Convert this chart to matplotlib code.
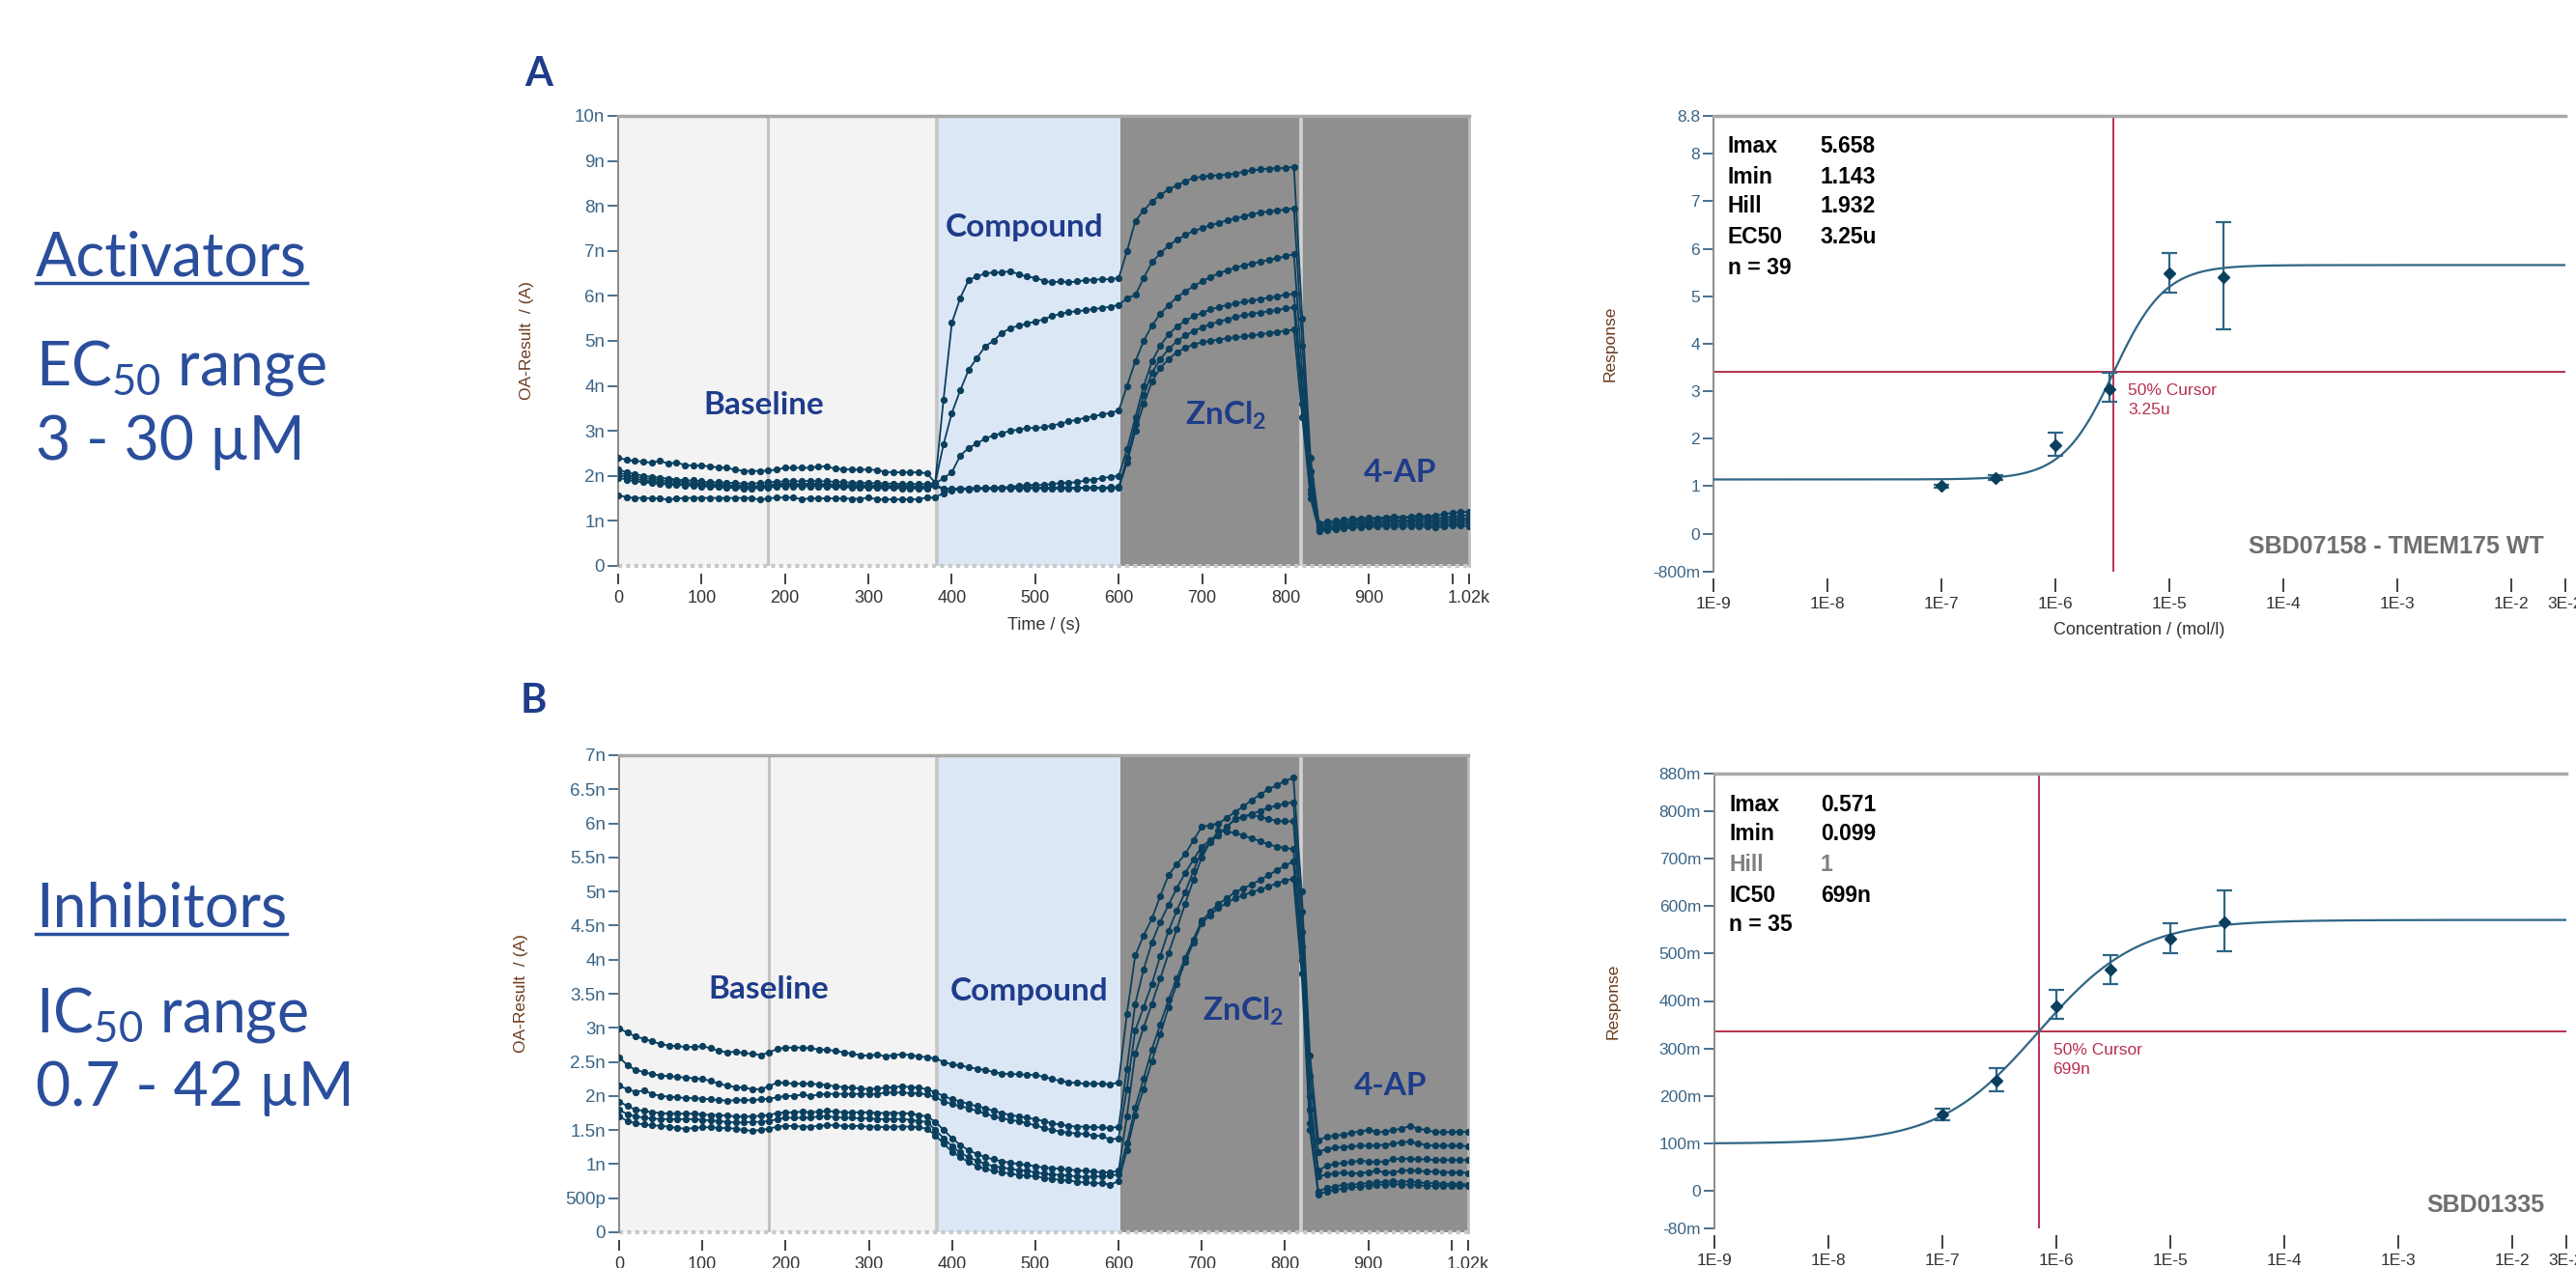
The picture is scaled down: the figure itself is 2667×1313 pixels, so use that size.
import numpy as np
import matplotlib
matplotlib.use("Agg")
import matplotlib.pyplot as plt
from matplotlib.lines import Line2D

plt.rcParams["font.family"] = ["Liberation Sans", "DejaVu Sans"]

# ---------------- data ----------------
# sweeps every 10 s, each phase starts at these times (s)
phase_start = [0, 380, 600, 820]

# panel A (activator) traces, nA
a_base = [
    [2.40, 2.36, 2.33, 2.32, 2.29, 2.34, 2.27, 2.30, 2.24, 2.23, 2.23, 2.21, 2.19, 2.18, 2.14, 2.11, 2.11, 2.11, 2.12,
     2.14, 2.18, 2.18, 2.18, 2.18, 2.21, 2.21, 2.16, 2.15, 2.14, 2.14, 2.14, 2.13, 2.09, 2.08, 2.08, 2.08, 2.08, 2.06],
    [2.14, 2.08, 2.04, 2.00, 1.98, 1.96, 1.94, 1.92, 1.90, 1.90, 1.88, 1.86, 1.86, 1.85, 1.84, 1.83, 1.83, 1.84, 1.86,
     1.87, 1.88, 1.88, 1.88, 1.89, 1.88, 1.88, 1.87, 1.86, 1.85, 1.85, 1.84, 1.84, 1.83, 1.83, 1.82, 1.82, 1.82, 1.82],
    [2.08, 2.02, 1.98, 1.95, 1.93, 1.91, 1.89, 1.88, 1.86, 1.85, 1.83, 1.82, 1.81, 1.80, 1.79, 1.78, 1.77, 1.78, 1.80,
     1.82, 1.83, 1.82, 1.82, 1.83, 1.82, 1.82, 1.81, 1.80, 1.80, 1.80, 1.79, 1.79, 1.78, 1.78, 1.78, 1.77, 1.77, 1.77],
    [2.02, 1.97, 1.93, 1.90, 1.88, 1.86, 1.84, 1.83, 1.82, 1.81, 1.80, 1.79, 1.78, 1.77, 1.76, 1.75, 1.74, 1.75, 1.77,
     1.79, 1.80, 1.80, 1.79, 1.79, 1.80, 1.79, 1.78, 1.78, 1.77, 1.77, 1.77, 1.76, 1.76, 1.75, 1.75, 1.75, 1.74, 1.74],
    [1.96, 1.92, 1.88, 1.86, 1.84, 1.82, 1.81, 1.80, 1.79, 1.78, 1.77, 1.76, 1.75, 1.74, 1.73, 1.72, 1.72, 1.73, 1.74,
     1.76, 1.77, 1.77, 1.76, 1.77, 1.77, 1.76, 1.75, 1.75, 1.74, 1.74, 1.74, 1.73, 1.73, 1.73, 1.72, 1.72, 1.72, 1.72],
    [1.57, 1.53, 1.51, 1.51, 1.50, 1.50, 1.47, 1.50, 1.51, 1.51, 1.51, 1.51, 1.51, 1.51, 1.51, 1.51, 1.51, 1.47, 1.50,
     1.52, 1.52, 1.52, 1.48, 1.50, 1.50, 1.50, 1.50, 1.50, 1.49, 1.49, 1.52, 1.48, 1.48, 1.48, 1.48, 1.48, 1.48, 1.52],
]
a_cmpd = [
    [1.85, 3.7, 5.4, 5.95, 6.35, 6.43, 6.5, 6.52, 6.52, 6.55, 6.48, 6.43, 6.4, 6.34, 6.3, 6.32, 6.3, 6.32, 6.35, 6.36, 6.37, 6.37],
    [1.84, 2.7, 3.4, 3.9, 4.35, 4.62, 4.88, 5.0, 5.18, 5.28, 5.34, 5.38, 5.43, 5.48, 5.55, 5.6, 5.64, 5.66, 5.68, 5.71, 5.73, 5.76],
    [1.83, 1.95, 2.08, 2.45, 2.62, 2.72, 2.83, 2.9, 2.95, 3.0, 3.03, 3.06, 3.07, 3.08, 3.12, 3.16, 3.21, 3.25, 3.29, 3.33, 3.36, 3.4],
    [1.8, 1.72, 1.7, 1.72, 1.72, 1.73, 1.73, 1.74, 1.74, 1.76, 1.78, 1.8, 1.8, 1.8, 1.82, 1.84, 1.85, 1.86, 1.9, 1.92, 1.95, 1.98],
    [1.78, 1.70, 1.72, 1.72, 1.72, 1.73, 1.73, 1.73, 1.73, 1.74, 1.75, 1.76, 1.75, 1.74, 1.74, 1.75, 1.74, 1.74, 1.74, 1.74, 1.74, 1.75],
    [1.52, 1.62, 1.68, 1.70, 1.70, 1.71, 1.71, 1.71, 1.72, 1.72, 1.72, 1.72, 1.72, 1.72, 1.71, 1.72, 1.72, 1.72, 1.73, 1.73, 1.72, 1.72],
]
a_zinc = [
    [6.4, 7.0, 7.67, 7.9, 8.1, 8.24, 8.37, 8.46, 8.55, 8.62, 8.65, 8.67, 8.68, 8.7, 8.72, 8.76, 8.79, 8.81, 8.83, 8.84, 8.84, 8.87],
    [5.8, 5.95, 6.02, 6.4, 6.75, 6.95, 7.12, 7.25, 7.35, 7.45, 7.5, 7.57, 7.62, 7.68, 7.72, 7.77, 7.82, 7.85, 7.88, 7.9, 7.92, 7.95],
    [3.45, 4.0, 4.55, 5.0, 5.35, 5.6, 5.8, 5.97, 6.1, 6.22, 6.32, 6.42, 6.5, 6.57, 6.63, 6.68, 6.72, 6.76, 6.8, 6.84, 6.88, 6.93],
    [2.0, 2.6, 3.3, 4.0, 4.55, 4.9, 5.15, 5.32, 5.45, 5.55, 5.62, 5.7, 5.75, 5.8, 5.83, 5.87, 5.9, 5.93, 5.96, 5.99, 6.02, 6.05],
    [1.75, 2.4, 3.15, 3.8, 4.3, 4.6, 4.82, 5.0, 5.12, 5.22, 5.3, 5.37, 5.43, 5.48, 5.53, 5.57, 5.6, 5.63, 5.66, 5.69, 5.72, 5.75],
    [1.73, 2.3, 3.0, 3.6, 4.1, 4.4, 4.6, 4.75, 4.85, 4.92, 4.97, 5.0, 5.03, 5.06, 5.08, 5.1, 5.12, 5.15, 5.17, 5.2, 5.22, 5.25],
]
a_4ap = [
    [5.5, 2.4, 0.95, 0.98, 1.0, 1.02, 1.05, 1.05, 1.07, 1.06, 1.08, 1.1, 1.08, 1.1, 1.12, 1.1, 1.12, 1.15, 1.18, 1.2, 1.2],
    [4.9, 2.1, 0.9, 0.93, 0.95, 0.98, 1.0, 1.02, 1.03, 1.05, 1.05, 1.07, 1.06, 1.08, 1.07, 1.08, 1.05, 1.08, 1.1, 1.12, 1.12],
    [4.3, 1.9, 0.85, 0.88, 0.9, 0.93, 0.95, 0.97, 0.98, 1.0, 1.0, 1.02, 1.0, 1.02, 1.03, 1.02, 1.0, 1.03, 1.05, 1.05, 1.05],
    [3.9, 1.7, 0.82, 0.85, 0.88, 0.9, 0.92, 0.93, 0.95, 0.95, 0.97, 0.98, 0.97, 0.98, 0.98, 0.97, 0.95, 0.98, 1.0, 1.0, 1.0],
    [3.6, 1.6, 0.8, 0.82, 0.85, 0.87, 0.88, 0.9, 0.9, 0.92, 0.92, 0.93, 0.92, 0.93, 0.93, 0.92, 0.9, 0.92, 0.95, 0.95, 0.95],
    [3.3, 1.5, 0.78, 0.8, 0.82, 0.83, 0.85, 0.85, 0.87, 0.87, 0.88, 0.88, 0.87, 0.88, 0.88, 0.87, 0.85, 0.88, 0.9, 0.9, 0.88],
]

# panel B (inhibitor) traces, nA
b_base = [
    [2.99, 2.93, 2.87, 2.84, 2.80, 2.76, 2.74, 2.73, 2.72, 2.72, 2.73, 2.70, 2.66, 2.64, 2.65, 2.63, 2.62, 2.60, 2.64,
     2.69, 2.71, 2.71, 2.71, 2.70, 2.68, 2.68, 2.66, 2.64, 2.62, 2.60, 2.59, 2.61, 2.58, 2.60, 2.61, 2.60, 2.58, 2.57],
    [2.57, 2.45, 2.38, 2.35, 2.32, 2.30, 2.29, 2.28, 2.27, 2.26, 2.25, 2.22, 2.18, 2.15, 2.13, 2.12, 2.10, 2.10, 2.14,
     2.20, 2.19, 2.18, 2.18, 2.18, 2.17, 2.16, 2.14, 2.13, 2.12, 2.11, 2.10, 2.11, 2.12, 2.13, 2.14, 2.13, 2.12, 2.10],
    [2.15, 2.10, 2.06, 2.08, 2.03, 2.00, 1.99, 1.98, 1.97, 1.97, 1.96, 1.95, 1.94, 1.93, 1.94, 1.94, 1.94, 1.95, 1.96,
     1.98, 2.00, 2.00, 2.02, 2.00, 2.02, 2.03, 2.03, 2.03, 2.03, 2.03, 2.03, 2.03, 2.05, 2.05, 2.05, 2.04, 2.04, 2.02],
    [1.92, 1.85, 1.80, 1.78, 1.76, 1.75, 1.74, 1.74, 1.74, 1.74, 1.73, 1.72, 1.72, 1.71, 1.70, 1.70, 1.70, 1.71, 1.72,
     1.75, 1.76, 1.76, 1.77, 1.76, 1.77, 1.78, 1.77, 1.76, 1.76, 1.76, 1.76, 1.75, 1.75, 1.75, 1.75, 1.74, 1.72, 1.70],
    [1.80, 1.73, 1.70, 1.68, 1.67, 1.66, 1.66, 1.66, 1.66, 1.66, 1.65, 1.64, 1.63, 1.62, 1.61, 1.61, 1.62, 1.62, 1.63,
     1.66, 1.68, 1.68, 1.68, 1.68, 1.70, 1.70, 1.69, 1.68, 1.68, 1.67, 1.67, 1.66, 1.66, 1.66, 1.66, 1.65, 1.63, 1.62],
    [1.70, 1.63, 1.60, 1.58, 1.57, 1.56, 1.55, 1.53, 1.52, 1.53, 1.54, 1.54, 1.53, 1.53, 1.52, 1.50, 1.49, 1.50, 1.52,
     1.55, 1.56, 1.56, 1.55, 1.55, 1.56, 1.57, 1.57, 1.56, 1.56, 1.56, 1.55, 1.55, 1.54, 1.55, 1.55, 1.55, 1.54, 1.52],
]
b_cmpd = [
    [2.55, 2.5, 2.46, 2.45, 2.42, 2.4, 2.38, 2.35, 2.33, 2.32, 2.32, 2.31, 2.31, 2.28, 2.25, 2.22, 2.2, 2.19, 2.18, 2.18, 2.18, 2.17],
    [2.05, 2.0, 1.95, 1.92, 1.88, 1.85, 1.82, 1.78, 1.75, 1.72, 1.70, 1.68, 1.66, 1.63, 1.60, 1.58, 1.56, 1.55, 1.55, 1.54, 1.54, 1.53],
    [1.98, 1.92, 1.88, 1.85, 1.82, 1.78, 1.74, 1.70, 1.67, 1.65, 1.63, 1.6, 1.57, 1.53, 1.50, 1.48, 1.46, 1.45, 1.44, 1.42, 1.41, 1.36],
    [1.62, 1.5, 1.38, 1.28, 1.2, 1.15, 1.1, 1.07, 1.04, 1.02, 1.0, 0.99, 0.97, 0.95, 0.94, 0.93, 0.92, 0.91, 0.9, 0.89, 0.88, 0.88],
    [1.5, 1.38, 1.26, 1.17, 1.1, 1.05, 1.0, 0.97, 0.95, 0.93, 0.91, 0.9, 0.88, 0.86, 0.85, 0.84, 0.83, 0.82, 0.81, 0.82, 0.82, 0.83],
    [1.42, 1.3, 1.18, 1.1, 1.03, 0.97, 0.93, 0.9, 0.88, 0.86, 0.84, 0.83, 0.82, 0.8, 0.78, 0.77, 0.76, 0.74, 0.73, 0.72, 0.72, 0.7],
]
b_zinc = [
    [2.2, 3.2, 4.06, 4.35, 4.6, 4.93, 5.24, 5.4, 5.55, 5.75, 5.95, 5.97, 6.0, 6.08, 6.17, 6.25, 6.34, 6.42, 6.5, 6.56, 6.62, 6.67],
    [1.55, 2.4, 3.35, 3.85, 4.25, 4.55, 4.8, 5.05, 5.27, 5.47, 5.66, 5.75, 5.83, 5.95, 6.06, 6.1, 6.14, 6.18, 6.23, 6.26, 6.29, 6.31],
    [1.38, 2.1, 2.96, 3.3, 3.64, 4.05, 4.42, 4.72, 4.99, 5.3, 5.6, 5.72, 5.83, 5.95, 6.06, 6.1, 6.12, 6.1, 6.06, 6.04, 6.03, 6.03],
    [0.9, 1.7, 2.62, 3.0, 3.35, 3.72, 4.09, 4.45, 4.82, 5.17, 5.5, 5.72, 5.89, 5.88, 5.86, 5.82, 5.78, 5.74, 5.69, 5.66, 5.64, 5.62],
    [0.85, 1.3, 1.83, 2.25, 2.68, 3.05, 3.41, 3.72, 4.03, 4.3, 4.57, 4.7, 4.82, 4.9, 4.99, 5.05, 5.1, 5.17, 5.24, 5.31, 5.38, 5.44],
    [0.75, 1.2, 1.72, 2.1, 2.51, 2.9, 3.3, 3.64, 3.97, 4.25, 4.54, 4.65, 4.76, 4.83, 4.9, 4.95, 4.99, 5.03, 5.07, 5.12, 5.16, 5.19],
]
b_4ap = [
    [5.0, 2.6, 1.35, 1.4, 1.42, 1.43, 1.46, 1.48, 1.5, 1.48, 1.47, 1.5, 1.52, 1.56, 1.52, 1.5, 1.47, 1.47, 1.47, 1.48, 1.47],
    [4.7, 2.3, 1.18, 1.22, 1.24, 1.25, 1.26, 1.27, 1.27, 1.28, 1.28, 1.3, 1.32, 1.33, 1.3, 1.28, 1.27, 1.27, 1.27, 1.27, 1.26],
    [4.4, 2.0, 0.9, 0.98, 1.0, 1.02, 1.03, 1.05, 1.04, 1.03, 1.04, 1.07, 1.08, 1.08, 1.07, 1.07, 1.06, 1.06, 1.06, 1.06, 1.06],
    [4.2, 1.8, 0.82, 0.85, 0.86, 0.88, 0.86, 0.87, 0.88, 0.9, 0.88, 0.88, 0.9, 0.91, 0.9, 0.89, 0.89, 0.88, 0.88, 0.88, 0.87],
    [4.0, 1.6, 0.6, 0.65, 0.67, 0.7, 0.7, 0.71, 0.72, 0.73, 0.74, 0.75, 0.74, 0.75, 0.73, 0.72, 0.72, 0.71, 0.71, 0.71, 0.7],
    [3.8, 1.5, 0.55, 0.6, 0.62, 0.64, 0.66, 0.67, 0.68, 0.7, 0.7, 0.71, 0.7, 0.7, 0.69, 0.68, 0.68, 0.68, 0.68, 0.68, 0.68],
]

# dose-response data
conc = [1e-7, 3e-7, 1e-6, 3e-6, 1e-5, 3e-5]
act_resp = [1.0, 1.18, 1.87, 3.05, 5.48, 5.40]
act_err_lo = [0.04, 0.05, 0.235, 0.28, 0.40, 1.10]
act_err_hi = [0.04, 0.05, 0.25, 0.33, 0.44, 1.16]
act_fit = dict(imax=5.658, imin=1.143, hill=1.932, ec50=3.25e-6)

inh_resp = [0.160, 0.232, 0.389, 0.467, 0.531, 0.567]
inh_err_lo = [0.011, 0.023, 0.027, 0.031, 0.030, 0.062]
inh_err_hi = [0.013, 0.027, 0.035, 0.030, 0.034, 0.066]
inh_fit = dict(imax=0.571, imin=0.099, hill=1.0, ec50=6.99e-7)

# ---------------- figure ----------------
W, H = 2667, 1313
fig = plt.figure(figsize=(W / 100, H / 100), dpi=100)

NAVY = "#1e3c8a"
TXT_BLUE = "#2a4e9c"
TICK = "#3a6587"
TRACE = "#0b3f5e"
CURVE = "#2f6585"
CURSOR = "#b8304f"
LABEL_BROWN = "#6b3a1e"


def px_axes(l, t, r, b):
    return fig.add_axes([l / W, 1 - b / H, (r - l) / W, (b - t) / H])


def trace(segments):
    t, v = [], []
    for start, seg in zip(phase_start, segments):
        t.extend(start + 10 * np.arange(len(seg)))
        v.extend(seg)
    return np.array(t), np.array(v)


def time_panel(ax, base, cmpd, zinc, ap, yticks, ylabels, labels_pos):
    ax.axvspan(0, 382, color="#f3f3f3", zorder=0, lw=0)
    ax.axvspan(382, 602, color="#dce7f6", zorder=0, lw=0)
    ax.axvspan(602, 1020, color="#8f8f8f", zorder=0, lw=0)
    ax.axvline(180, color="#c2c2c2", lw=2.2, zorder=1)
    ax.axvline(382, color="#c6c6c6", lw=2.6, zorder=1)
    ax.axvline(819, color="#d2d2d2", lw=2.6, zorder=1)
    ax.axhline(yticks[0], color="#c8c8c8", lw=3, ls=(0, (1, 1)), zorder=1, clip_on=False)
    for k in range(len(base)):
        t, v = trace([base[k], cmpd[k], zinc[k], ap[k]])
        ax.plot(t, v, "-", color=TRACE, lw=1.3, marker="o", ms=4.2, zorder=3)
    ax.set_xlim(0, 1020)
    ax.set_ylim(yticks[0], yticks[-1])
    ax.set_xticks(list(range(0, 1001, 100)) + [1020])
    ax.set_xticklabels([str(x) for x in range(0, 901, 100)] + ["", "1.02k"])
    ax.set_yticks(yticks)
    ax.set_yticklabels(ylabels)
    ax.spines["bottom"].set_position(("outward", 6))
    ax.spines["bottom"].set_visible(False)
    ax.spines["left"].set_color("#8a8a8a")
    ax.spines["left"].set_linewidth(1.4)
    ax.spines["top"].set_color("#a8a8a8")
    ax.spines["top"].set_linewidth(2.5)
    ax.spines["right"].set_color("#bdbdbd")
    ax.spines["right"].set_linewidth(2)
    ax.tick_params(axis="y", direction="out", length=8, width=1.3, color=TICK,
                   labelcolor=TICK, labelsize=13.5, pad=2)
    ax.tick_params(axis="x", direction="out", length=8, width=1.3, color="#333333",
                   labelcolor="#333333", labelsize=13, pad=4)
    names = ["Baseline", "Compound", "ZnCl$_{\\mathregular{2}}$", "4-AP"]
    for name, (x, y) in zip(names, labels_pos):
        ax.text(x, y, name, ha="center", va="center", color=NAVY, fontsize=24,
                fontweight="bold", family=["Lato", "DejaVu Sans"], zorder=4)


# panel A
axA = px_axes(640, 120, 1521, 586)
time_panel(axA, a_base, a_cmpd, a_zinc, a_4ap, list(range(0, 11)),
           ["0"] + [f"{i}n" for i in range(1, 11)],
           [(174, 3.57), (487, 7.53), (728, 3.35), (937, 2.07)])
axA.set_ylabel("OA-Result  / (A)", color=LABEL_BROWN, fontsize=12.5)
axA.yaxis.set_label_coords(-87 / 881, 0.5)
axA.set_xlabel("Time / (s)", color="#333333", fontsize=13, labelpad=8)

# panel B
axB = px_axes(641, 782, 1520, 1276)
b_ticks = [i * 0.5 for i in range(15)]
b_labels = ["0", "500p"] + [f"{v:g}n" for v in b_ticks[2:]]
time_panel(axB, b_base, b_cmpd, b_zinc, b_4ap, b_ticks, b_labels,
           [(179, 3.56), (493, 3.53), (750, 3.24), (927, 2.14)])
axB.set_ylabel("OA-Result  / (A)", color=LABEL_BROWN, fontsize=12.5)
axB.yaxis.set_label_coords(-94 / 879, 0.5)


def hill_curve(x, imin, imax, hill, ec50):
    return imin + (imax - imin) / (1 + (ec50 / x) ** hill)


def dose_panel(ax, resp, err_lo, err_hi, fit, ylim, yticks, ylabels, cursor_txt):
    xs = np.logspace(-9, np.log10(3e-2), 500)
    ax.plot(xs, hill_curve(xs, fit["imin"], fit["imax"], fit["hill"], fit["ec50"]),
            color=CURVE, lw=1.6, zorder=3)
    y50 = (fit["imax"] + fit["imin"]) / 2
    ax.axhline(y50, color=CURSOR, lw=1.4, zorder=2)
    ax.axvline(fit["ec50"], color=CURSOR, lw=1.4, zorder=2)
    ax.errorbar(conc, resp, yerr=[err_lo, err_hi], fmt="D", color=TRACE, ecolor=CURVE,
                ms=6.5, elinewidth=1.6, capsize=6, capthick=1.6, zorder=4)
    ax.annotate(cursor_txt, xy=(fit["ec50"], y50), xytext=(15, -12), textcoords="offset pixels",
                ha="left", va="top", color=CURSOR, fontsize=12.5, linespacing=1.35)
    ax.set_xscale("log")
    ax.set_xlim(1e-9, 3e-2)
    ax.set_ylim(*ylim)
    ax.set_xticks([1e-9, 1e-8, 1e-7, 1e-6, 1e-5, 1e-4, 1e-3, 1e-2, 3e-2])
    ax.set_xticklabels(["1E-9", "1E-8", "1E-7", "1E-6", "1E-5", "1E-4", "1E-3", "1E-2", "3E-2"])
    ax.minorticks_off()
    ax.set_yticks(yticks)
    ax.set_yticklabels(ylabels)
    ax.spines["bottom"].set_position(("outward", 5))
    ax.spines["bottom"].set_visible(False)
    ax.spines["right"].set_visible(False)
    ax.spines["left"].set_color("#8a8a8a")
    ax.spines["left"].set_linewidth(1.4)
    ax.spines["top"].set_color("#a8a8a8")
    ax.spines["top"].set_linewidth(2.5)
    ax.tick_params(axis="y", direction="out", length=8, width=1.3, color=TICK,
                   labelcolor=TICK, labelsize=12.5, pad=2)
    ax.tick_params(axis="x", direction="out", length=10, width=1.3, color="#333333",
                   labelcolor="#333333", labelsize=12.5, pad=4)
    ax.set_ylabel("Response", color=LABEL_BROWN, fontsize=12.5)


axC = px_axes(1774, 120, 2656, 592)
dose_panel(axC, act_resp, act_err_lo, act_err_hi, act_fit, (-0.8, 8.8),
           [-0.8, 0, 1, 2, 3, 4, 5, 6, 7, 8, 8.8],
           ["-800m", "0", "1", "2", "3", "4", "5", "6", "7", "8", "8.8"], "50% Cursor\n3.25u")
axC.yaxis.set_label_coords(-99 / 882, 0.5)
axC.set_xlabel("Concentration / (mol/l)", color="#333333", fontsize=13, labelpad=8)

axD = px_axes(1775, 801, 2657, 1272)
dose_panel(axD, inh_resp, inh_err_lo, inh_err_hi, inh_fit, (-0.08, 0.88),
           [-0.08, 0, 0.1, 0.2, 0.3, 0.4, 0.5, 0.6, 0.7, 0.8, 0.88],
           ["-80m", "0", "100m", "200m", "300m", "400m", "500m", "600m", "700m", "800m", "880m"],
           "50% Cursor\n699n")
axD.yaxis.set_label_coords(-97 / 882, 0.5)


def ftext(x, y, s, **kw):
    return fig.text(x / W, 1 - y / H, s, **kw)


# fit parameter boxes
rows_top = [("Imax", "5.658", "black"), ("Imin", "1.143", "black"), ("Hill", "1.932", "black"),
            ("EC50", "3.25u", "black"), ("n = 39", "", "black")]
rows_bot = [("Imax", "0.571", "black"), ("Imin", "0.099", "black"), ("Hill", "1", "#7f7f7f"),
            ("IC50", "699n", "black"), ("n = 35", "", "black")]
for rows, x0, ys in [(rows_top, 1789, [151, 183, 214, 246, 278]),
                     (rows_bot, 1790, [833, 864, 896, 927, 958])]:
    for (lab, val, col), y in zip(rows, ys):
        ftext(x0, y, lab, ha="left", va="center", fontsize=16.5, fontweight="bold", color=col)
        if val:
            ftext(x0 + 95, y, val, ha="left", va="center", fontsize=16.5, fontweight="bold", color=col)

ftext(2634, 566, "SBD07158 - TMEM175 WT", ha="right", va="center", fontsize=18,
      fontweight="bold", color="#6f6f6f")
ftext(2634, 1248, "SBD01335", ha="right", va="center", fontsize=18,
      fontweight="bold", color="#6f6f6f")

# panel letters
ftext(558, 77, "A", ha="center", va="center", fontsize=30, fontweight="bold", color=NAVY,
      family=["Lato", "DejaVu Sans"])
ftext(552, 726, "B", ha="center", va="center", fontsize=30, fontweight="bold", color=NAVY,
      family=["Lato", "DejaVu Sans"])

# left annotations
side_font = ["Lato", "DejaVu Sans"]
heads = []
for s, y in [("Activators", 286), ("Inhibitors", 960)]:
    heads.append((ftext(37, y, s, ha="left", va="baseline", fontsize=45, color=TXT_BLUE,
                        family=side_font), y))
for s, y in [("EC$_{\\mathregular{50}}$ range", 399), ("3 - 30 \u00b5M", 476),
             ("IC$_{\\mathregular{50}}$ range", 1069), ("0.7 - 42 \u00b5M", 1145)]:
    ftext(37, y, s, ha="left", va="baseline", fontsize=45, color=TXT_BLUE, family=side_font)

fig.canvas.draw()
rend = fig.canvas.get_renderer()
for txt, y in heads:
    bb = txt.get_window_extent(rend)
    yy = 1 - (y + 7) / H
    fig.add_artist(Line2D([bb.x0 / W, bb.x1 / W], [yy, yy], transform=fig.transFigure,
                          color=TXT_BLUE, lw=2.5))

fig.savefig("out.png", dpi=100)
